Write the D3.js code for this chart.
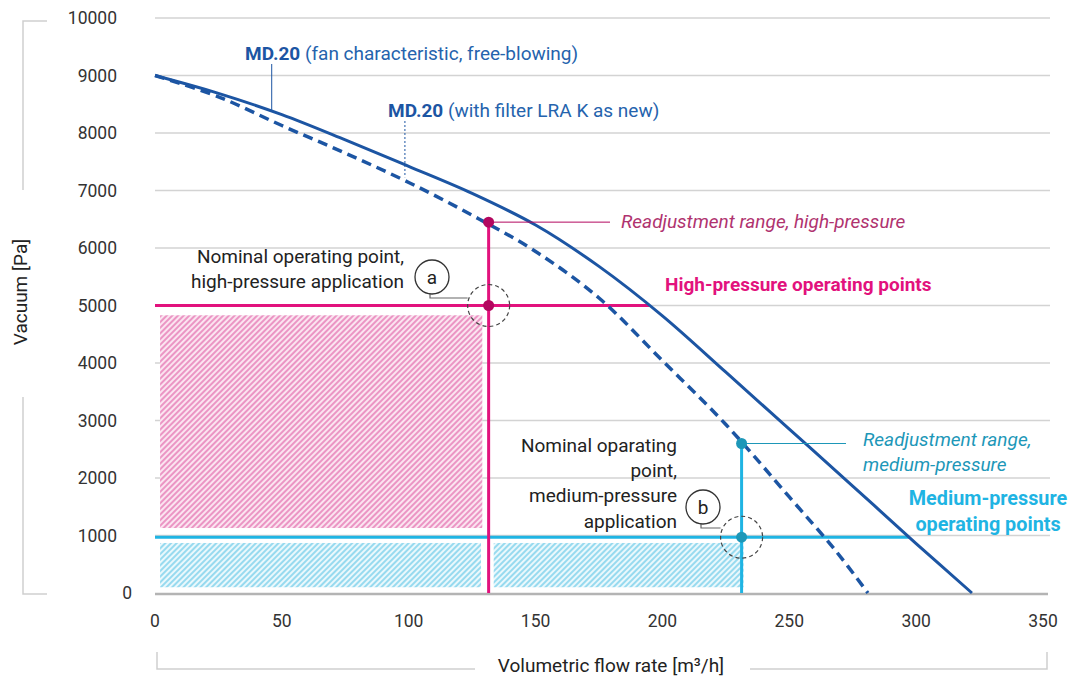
<!DOCTYPE html>
<html>
<head>
<meta charset="utf-8">
<script src="https://cdn.jsdelivr.net/npm/d3@7"></script>
<style>
  body { margin: 0; background: #fff; }
  svg { font-family: Roboto, "Noto Sans", sans-serif; }
</style>
</head>
<body>
<svg id="chart" width="1077" height="681"></svg>
<script>
// axis ticks
const flowTicks = [0, 50, 100, 150, 200, 250, 300, 350];
const vacuumTicks = [0, 1000, 2000, 3000, 4000, 5000, 6000, 7000, 8000, 9000, 10000];

// MD.20 fan characteristic, free-blowing (solid)
const freeFlow = [0, 25, 50, 75, 100, 125, 150, 175, 200, 225, 250, 275, 300, 322];
const freeVacuum = [9000, 8690, 8320, 7880, 7420, 6950, 6400, 5680, 4820, 3840, 2850, 1860, 860, 0];

// MD.20 with filter LRA K as new (dashed)
const filterFlow = [0, 25, 50, 75, 100, 125, 150, 175, 200, 225, 250, 268, 281];
const filterVacuum = [9000, 8630, 8130, 7650, 7140, 6570, 5940, 5130, 4040, 2930, 1670, 750, 0];

// operating points [flow, vacuum]
const highNominal = [131.5, 5000];
const highReadjust = [131.5, 6450];
const mediumNominal = [231.2, 970];
const mediumReadjust = [231.2, 2600];

// hatched ranges [flow0, flow1, vacuum0, vacuum1]
const highRange = [[2, 129, 1130, 4830]];
const mediumRange = [[2, 128.5, 100, 870], [133.5, 232, 100, 870]];

const svg = d3.select("#chart");
const x = d3.scaleLinear().domain([0, 350]).range([155, 1043]);
const y = d3.scaleLinear().domain([0, 10000]).range([593, 18]);

const blue = "#1c55a3";
const magenta = "#e2127d";
const magentaDark = "#b3075f";
const cyan = "#1fb4e3";
const teal = "#1d97b8";
const fs = 19;

// patterns
const defs = svg.append("defs");
function hatch(id, bg, fg) {
  const p = defs.append("pattern")
    .attr("id", id)
    .attr("patternUnits", "userSpaceOnUse")
    .attr("width", 4).attr("height", 4)
    .attr("patternTransform", "rotate(45)");
  p.append("rect").attr("width", 4).attr("height", 4).attr("fill", bg);
  p.append("line").attr("x1", 1).attr("y1", 0).attr("x2", 1).attr("y2", 4)
    .attr("stroke", fg).attr("stroke-width", 1.8);
}
hatch("pinkHatch", "#fbe4f0", "#ea8cbf");
hatch("cyanHatch", "#eaf8fc", "#8ed7ee");

// grid
svg.append("g")
  .selectAll("line")
  .data(vacuumTicks.filter(d => d > 0))
  .join("line")
  .attr("x1", x(0)).attr("x2", 1050)
  .attr("y1", d => y(d)).attr("y2", d => y(d))
  .attr("stroke", "#d3d3d3").attr("stroke-width", 1.5);

// hatched areas
svg.append("g")
  .selectAll("rect")
  .data(highRange)
  .join("rect")
  .attr("x", d => x(d[0])).attr("width", d => x(d[1]) - x(d[0]))
  .attr("y", d => y(d[3])).attr("height", d => y(d[2]) - y(d[3]))
  .attr("fill", "url(#pinkHatch)");
svg.append("g")
  .selectAll("rect")
  .data(mediumRange)
  .join("rect")
  .attr("x", d => x(d[0])).attr("width", d => x(d[1]) - x(d[0]))
  .attr("y", d => y(d[3])).attr("height", d => y(d[2]) - y(d[3]))
  .attr("fill", "url(#cyanHatch)");

// baseline
svg.append("line")
  .attr("x1", x(0)).attr("x2", 1048)
  .attr("y1", y(0) + 1).attr("y2", y(0) + 1)
  .attr("stroke", "#b4b4b4").attr("stroke-width", 2.5);

// y tick labels (the zero sits a little further right in the original)
svg.append("g")
  .selectAll("text")
  .data(vacuumTicks)
  .join("text")
  .attr("x", d => d === 0 ? 132 : 117).attr("y", d => y(d))
  .attr("dy", "0.35em")
  .attr("text-anchor", "end")
  .attr("font-size", 17.5).attr("fill", "#333")
  .text(d => d);

// x tick labels
svg.append("g")
  .selectAll("text")
  .data(flowTicks)
  .join("text")
  .attr("x", d => x(d)).attr("y", 621)
  .attr("dy", "0.35em")
  .attr("text-anchor", "middle")
  .attr("font-size", 17.5).attr("fill", "#333")
  .text(d => d);

// axis titles and brackets
svg.append("text")
  .attr("transform", "translate(20,292) rotate(-90)")
  .attr("dy", "0.35em")
  .attr("text-anchor", "middle")
  .attr("font-size", fs).attr("fill", "#222")
  .text("Vacuum [Pa]");
svg.append("path")
  .attr("d", "M47,21H23V190M23,397V594H47")
  .attr("fill", "none").attr("stroke", "#cfcfcf").attr("stroke-width", 1.5);

svg.append("text")
  .attr("x", 611).attr("y", 665)
  .attr("dy", "0.35em")
  .attr("text-anchor", "middle")
  .attr("font-size", fs).attr("fill", "#222")
  .text("Volumetric flow rate [m³/h]");
svg.append("path")
  .attr("d", "M157,652V669H475M750,669H1047V652")
  .attr("fill", "none").attr("stroke", "#cfcfcf").attr("stroke-width", 1.5);

// curves
const line = d3.line()
  .x(d => x(d[0])).y(d => y(d[1]))
  .curve(d3.curveCatmullRom.alpha(0.5));
const freeData = freeFlow.map((f, i) => [f, freeVacuum[i]]);
const filterData = filterFlow.map((f, i) => [f, filterVacuum[i]]);

// flow where free-blowing curve reaches a vacuum level
function flowAt(v) {
  for (let i = 1; i < freeData.length; i++) {
    const a = freeData[i - 1], b = freeData[i];
    if (v <= a[1] && v >= b[1]) return a[0] + (a[1] - v) / (a[1] - b[1]) * (b[0] - a[0]);
  }
  return freeData[freeData.length - 1][0];
}

// medium-pressure lines
svg.append("line")
  .attr("x1", x(0)).attr("x2", x(flowAt(mediumNominal[1])))
  .attr("y1", y(mediumNominal[1])).attr("y2", y(mediumNominal[1]))
  .attr("stroke", cyan).attr("stroke-width", 3);
svg.append("line")
  .attr("x1", x(mediumReadjust[0])).attr("x2", x(mediumReadjust[0]))
  .attr("y1", y(mediumReadjust[1])).attr("y2", y(0))
  .attr("stroke", cyan).attr("stroke-width", 3);

// high-pressure lines
svg.append("line")
  .attr("x1", x(0)).attr("x2", x(flowAt(highNominal[1])))
  .attr("y1", y(highNominal[1])).attr("y2", y(highNominal[1]))
  .attr("stroke", magenta).attr("stroke-width", 3);
svg.append("line")
  .attr("x1", x(highReadjust[0])).attr("x2", x(highReadjust[0]))
  .attr("y1", y(highReadjust[1])).attr("y2", y(0))
  .attr("stroke", magenta).attr("stroke-width", 3);

svg.append("path")
  .datum(filterData)
  .attr("d", line)
  .attr("fill", "none").attr("stroke", blue)
  .attr("stroke-width", 3.5).attr("stroke-dasharray", "10,6");
svg.append("path")
  .datum(freeData)
  .attr("d", line)
  .attr("fill", "none").attr("stroke", blue)
  .attr("stroke-width", 3);

// readjustment leaders
svg.append("line")
  .attr("x1", x(highReadjust[0])).attr("x2", 610)
  .attr("y1", y(highReadjust[1])).attr("y2", y(highReadjust[1]))
  .attr("stroke", magentaDark).attr("stroke-width", 1);
svg.append("line")
  .attr("x1", x(mediumReadjust[0])).attr("x2", 846)
  .attr("y1", y(mediumReadjust[1])).attr("y2", y(mediumReadjust[1]))
  .attr("stroke", teal).attr("stroke-width", 1);

// dots
svg.append("g")
  .selectAll("circle")
  .data([highNominal, highReadjust])
  .join("circle")
  .attr("cx", d => x(d[0])).attr("cy", d => y(d[1])).attr("r", 5.5)
  .attr("fill", magentaDark);
svg.append("g")
  .selectAll("circle")
  .data([mediumNominal, mediumReadjust])
  .join("circle")
  .attr("cx", d => x(d[0])).attr("cy", d => y(d[1])).attr("r", 5.5)
  .attr("fill", teal);

// nominal point markers (dashed circle + callout bubble)
function callout(pt, letter, bx, by) {
  const cx = x(pt[0]), cy = y(pt[1]);
  svg.append("circle")
    .attr("cx", cx).attr("cy", cy).attr("r", 21)
    .attr("fill", "none").attr("stroke", "#444")
    .attr("stroke-width", 1.2).attr("stroke-dasharray", "4,3");
  svg.append("path")
    .attr("d", `M${bx - 2},${by + 15}V${by + 21}H${cx - 21}`)
    .attr("fill", "none").attr("stroke", "#666").attr("stroke-width", 1.2);
  svg.append("circle")
    .attr("cx", bx).attr("cy", by).attr("r", 17)
    .attr("fill", "#fff").attr("stroke", "#333").attr("stroke-width", 1.3);
  svg.append("text")
    .attr("x", bx).attr("y", by).attr("dy", "0.35em")
    .attr("text-anchor", "middle")
    .attr("font-size", fs).attr("fill", "#222")
    .text(letter);
}
callout(highNominal, "a", 432, 277);
callout(mediumNominal, "b", 703, 507);

// text blocks
function block(lines, tx, ty, lh, anchor, attrs) {
  const t = svg.append("text")
    .attr("x", tx).attr("y", ty)
    .attr("text-anchor", anchor)
    .attr("font-size", fs);
  Object.entries(attrs).forEach(([k, v]) => t.attr(k, v));
  lines.forEach((l, i) => {
    t.append("tspan").attr("x", tx).attr("y", ty + i * lh).attr("dy", "0.35em").text(l);
  });
  return t;
}

block(["Nominal operating point,", "high-pressure application"], 404, 256, 25, "end", { fill: "#222" });
block(["Nominal oparating", "point,", "medium-pressure", "application"], 677, 445, 25.3, "end", { fill: "#222" });

block(["Readjustment range, high-pressure"], 621, 221, 25, "start",
  { fill: "#b0336f", "font-style": "italic" });
block(["Readjustment range,", "medium-pressure"], 863, 439, 25, "start",
  { fill: teal, "font-style": "italic" });

block(["High-pressure operating points"], 665, 284, 25, "start",
  { fill: magenta, "font-weight": "bold", "font-size": 19 });
block(["Medium-pressure", "operating points"], 988, 498, 26, "middle",
  { fill: cyan, "font-weight": "bold", "font-size": 19.8 });

// curve labels
const lab1 = svg.append("text").attr("x", 245).attr("y", 53).attr("dy", "0.35em")
  .attr("font-size", fs).attr("fill", "#2563ad");
lab1.append("tspan").attr("font-weight", "bold").attr("fill", blue).text("MD.20");
lab1.append("tspan").text(" (fan characteristic, free-blowing)");
svg.append("line")
  .attr("x1", x(46)).attr("x2", x(46))
  .attr("y1", 64).attr("y2", y(8400))
  .attr("stroke", blue).attr("stroke-width", 1);

const lab2 = svg.append("text").attr("x", 388).attr("y", 110).attr("dy", "0.35em")
  .attr("font-size", fs).attr("fill", "#2563ad");
lab2.append("tspan").attr("font-weight", "bold").attr("fill", blue).text("MD.20");
lab2.append("tspan").text(" (with filter LRA K as new)");
svg.append("line")
  .attr("x1", x(98.5)).attr("x2", x(98.5))
  .attr("y1", 121).attr("y2", y(7230))
  .attr("stroke", blue).attr("stroke-width", 1).attr("stroke-dasharray", "2,2");
</script>
</body>
</html>
